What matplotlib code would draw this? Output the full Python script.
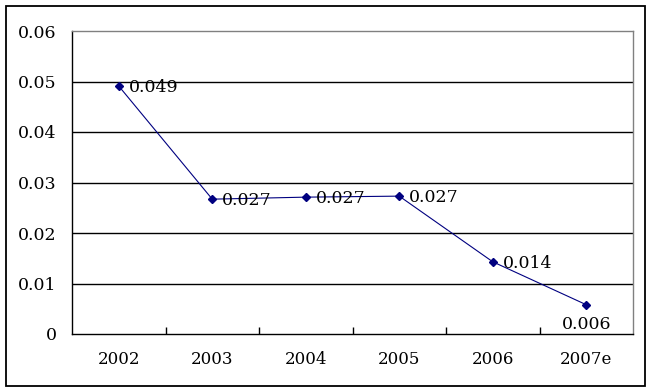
import numpy as np
import matplotlib.pyplot as plt
from matplotlib.patches import Rectangle

years = ['2002', '2003', '2004', '2005', '2006', '2007e']
values = [0.0491, 0.0267, 0.0271, 0.0273, 0.0143, 0.0058]
labels = ['0.049', '0.027', '0.027', '0.027', '0.014', '0.006']
yticks = [0, 0.01, 0.02, 0.03, 0.04, 0.05, 0.06]
ytick_labels = ['0', '0.01', '0.02', '0.03', '0.04', '0.05', '0.06']

plt.rcParams['font.family'] = ['DejaVu Serif']

fig = plt.figure(figsize=(6.52, 3.92), dpi=100)
fig.patches.append(Rectangle((6 / 652, 6 / 392), 639 / 652, 380 / 392,
                             transform=fig.transFigure, fill=False,
                             edgecolor='black', linewidth=1.3))

ax = fig.add_axes([72 / 652, 58 / 392, 561 / 652, 303 / 392])
x = np.arange(len(years))
ax.set_xlim(-0.5, len(years) - 0.5)
ax.set_ylim(0, 0.06)

# horizontal gridlines
for yv in yticks[1:-1]:
    ax.axhline(yv, color='black', linewidth=1.0, zorder=1)

ax.plot(x, values, color='#000080', linewidth=0.8, marker='D',
        markersize=4.5, zorder=3)

for i, (v, lab) in enumerate(zip(values, labels)):
    if i == len(values) - 1:
        ax.annotate(lab, (x[i], v), xytext=(0, -8), textcoords='offset points',
                    ha='center', va='top', fontsize=12.5)
    else:
        ax.annotate(lab, (x[i], v), xytext=(7, -1), textcoords='offset points',
                    ha='left', va='center', fontsize=12.5)

ax.set_yticks(yticks)
ax.set_yticklabels(ytick_labels, fontsize=12.5)
ax.tick_params(axis='y', length=0, pad=11)

ax.set_xticks(x)
ax.set_xticklabels(years, fontsize=12)
ax.tick_params(axis='x', length=0, pad=12)
ax.set_xticks(np.arange(0.5, len(years) - 0.5), minor=True)
ax.tick_params(axis='x', which='minor', direction='in', length=5, width=1)

ax.spines['left'].set_color('black')
ax.spines['bottom'].set_color('black')
ax.spines['top'].set_color('#808080')
ax.spines['right'].set_color('#808080')
for s in ax.spines.values():
    s.set_linewidth(1.0)

fig.savefig('out.png', dpi=100)
